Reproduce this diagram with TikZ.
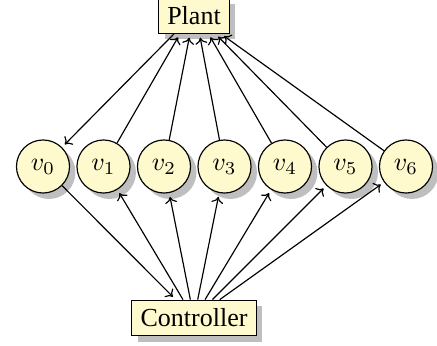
\documentclass[tikz,border=0pt]{standalone}
\usepackage{fontspec}
\setmainfont{Liberation Serif}
\usetikzlibrary{shadows,calc,arrows.meta}
\definecolor{nodefill}{RGB}{255,250,205}
\begin{document}
\begin{tikzpicture}[x=0.3846pt,y=-0.3846pt,line width=0.45pt,
  vnode/.style={circle,draw,fill=nodefill,drop shadow,minimum size=20.4pt,inner sep=0pt},
  box/.style={rectangle,draw,fill=nodefill,drop shadow},
  link/.style={-{To[length=2.4pt,width=4.6pt]},shorten >=1.5pt}]
\useasboundingbox (0,0) rectangle (437,345);
\node[box] (plant) at (194,15.5) {Plant};
\node[box] (ctrl) at (194,318) {Controller};
\foreach \i in {0,...,6} \node[vnode] (v\i) at (43+60.5*\i,166.5) {$v_{\i}$};
\draw[link] ($(plant.south)+(-20,0)$) -- (v0);
\foreach \i/\dx in {1/-14,2/-4,3/5.5,4/14.5,5/21.5,6/27}
  \draw[link] (v\i) -- ($(plant.south)+(\dx,0)$);
\draw[link] (v0) -- (ctrl);
\foreach \i in {1,...,6} \draw[link] (ctrl) -- (v\i);
\end{tikzpicture}
\end{document}
